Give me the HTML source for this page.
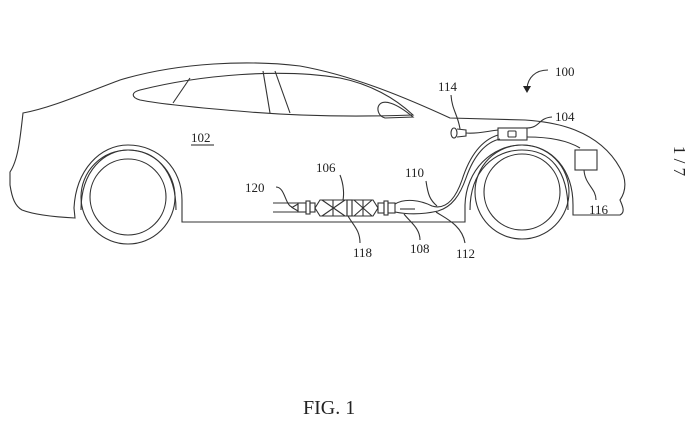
<!DOCTYPE html>
<html><head><meta charset="utf-8"><style>
html,body{margin:0;padding:0;background:#fff;}
svg{display:block;}
text{font-family:"Liberation Serif",serif;fill:#222;}
</style></head><body>
<svg width="700" height="437" viewBox="0 0 700 437" xmlns="http://www.w3.org/2000/svg">
<g fill="none" stroke="#333" stroke-width="1.1">
<!-- body outline -->
<path d="M75,218 L74,208 C76,170 100,145 128,145 C158,145 182,168 182,200 L182,222 L465,222 L465,205 C466,170 492,145 522,145 C552,145 573,170 573,205 L573,215 L620,215 C626,212 622,205 620,200 C627,190 626,178 620,168 C610,150 595,138 575,130 C560,124 540,121 525,120 L450,118 C400,95 350,75 300,66 C250,60 180,62 120,80 C80,95 50,108 23,113 C20,140 18,160 10,172 L10,185 C12,198 15,206 22,210 C35,215 55,217 75,218 Z"/>
<!-- window -->
<path d="M140,90 C200,75 280,68 340,78 C370,84 395,98 413,115 C360,117 300,116 250,112 C200,108 160,104 140,100 C130,97 132,92 140,90 Z"/>
<path d="M190,78 L173,103"/><path d="M263,71 L270,113"/><path d="M275,71 L290,113"/>
<!-- mirror -->
<path d="M380,104 C384,100 395,102 413,117 L385,118 C378,116 376,108 380,104 Z"/>
<!-- rear wheel -->
<path d="M81,210 C81,170 105,150 128,150 C155,150 176,170 176,210"/>
<circle cx="128" cy="197" r="47"/><circle cx="128" cy="197" r="38"/>
<!-- front wheel -->
<path d="M470,210 C470,170 495,150 522,150 C550,150 568,170 568,210"/>
<circle cx="522" cy="192" r="47"/><circle cx="522" cy="192" r="38"/>
<!-- exhaust rails -->
<path d="M273,203 L300,203 M273,212 L300,212"/>
<path d="M292,207.5 L298,204 L298,211 Z"/>
<rect x="298" y="203" width="8" height="9"/><rect x="306" y="201" width="4" height="13"/><rect x="310" y="203" width="5" height="9"/>
<!-- box1 -->
<path d="M315,208 L320,200 L347,200 L347,216 L320,216 Z"/>
<path d="M322,200 L345,216 M345,200 L322,216 M333,200 L333,216"/>
<rect x="347" y="200" width="5" height="16"/>
<!-- box2 -->
<path d="M352,200 L373,200 L378,208 L373,216 L352,216 Z"/>
<path d="M354,200 L372,216 M372,200 L354,216 M363,200 L363,216"/>
<rect x="378" y="203" width="6" height="10"/><rect x="384" y="201" width="4" height="14"/><rect x="388" y="203" width="7" height="10"/>
<!-- hoses -->
<path d="M395,204 C405,198 420,200 432,206 C445,210 455,200 462,180 C470,155 482,140 498,135"/>
<path d="M395,212 C410,215 425,214 438,211 C452,207 460,195 466,178 C474,155 486,142 500,139"/>
<path d="M400,209 L415,209"/>
<!-- 104 box -->
<rect x="498" y="128" width="29" height="12"/><rect x="508" y="131" width="8" height="6" rx="1"/>
<!-- bulb 114 -->
<ellipse cx="454" cy="133" rx="3" ry="5"/><path d="M457,129 L466,130 L466,136 L457,137"/>
<path d="M466,133 C478,134 488,131 498,130"/>
<path d="M527,137 C545,137 565,139 580,148"/>
<rect x="575" y="150" width="22" height="20"/>
<!-- leaders -->
<path d="M460,129 C458,115 452,110 451,95"/>
<path d="M527,128 C540,128 538,118 552,117"/>
<path d="M548,70 C535,70 528,78 527,88"/>
<path d="M276,187 C285,187 285,205 292,207"/>
<path d="M340,175 C344,185 344,195 343,200"/>
<path d="M348,216 C353,225 360,230 360,243"/>
<path d="M404,214 C410,222 420,228 420,240"/>
<path d="M426,181 C428,195 430,200 437,206"/>
<path d="M436,212 C445,218 462,225 465,243"/>
<path d="M584,170 C585,185 596,188 596,200"/>
</g>
<path d="M523,86 L531,86 L527,93 Z" fill="#222"/>
<g font-size="13">
<text x="191" y="142">102</text>
<path d="M191,145 L214,145" stroke="#222" stroke-width="1"/>
<text x="555" y="76">100</text>
<text x="438" y="91">114</text>
<text x="555" y="121">104</text>
<text x="245" y="192">120</text>
<text x="316" y="172">106</text>
<text x="405" y="177">110</text>
<text x="353" y="257">118</text>
<text x="410" y="253">108</text>
<text x="456" y="258">112</text>
<text x="589" y="214">116</text>
</g>
<text x="303" y="414" font-size="20">FIG. 1</text>
<text transform="translate(674,161) rotate(90)" text-anchor="middle" font-size="17">1 / 7</text>
</svg>
</body></html>
